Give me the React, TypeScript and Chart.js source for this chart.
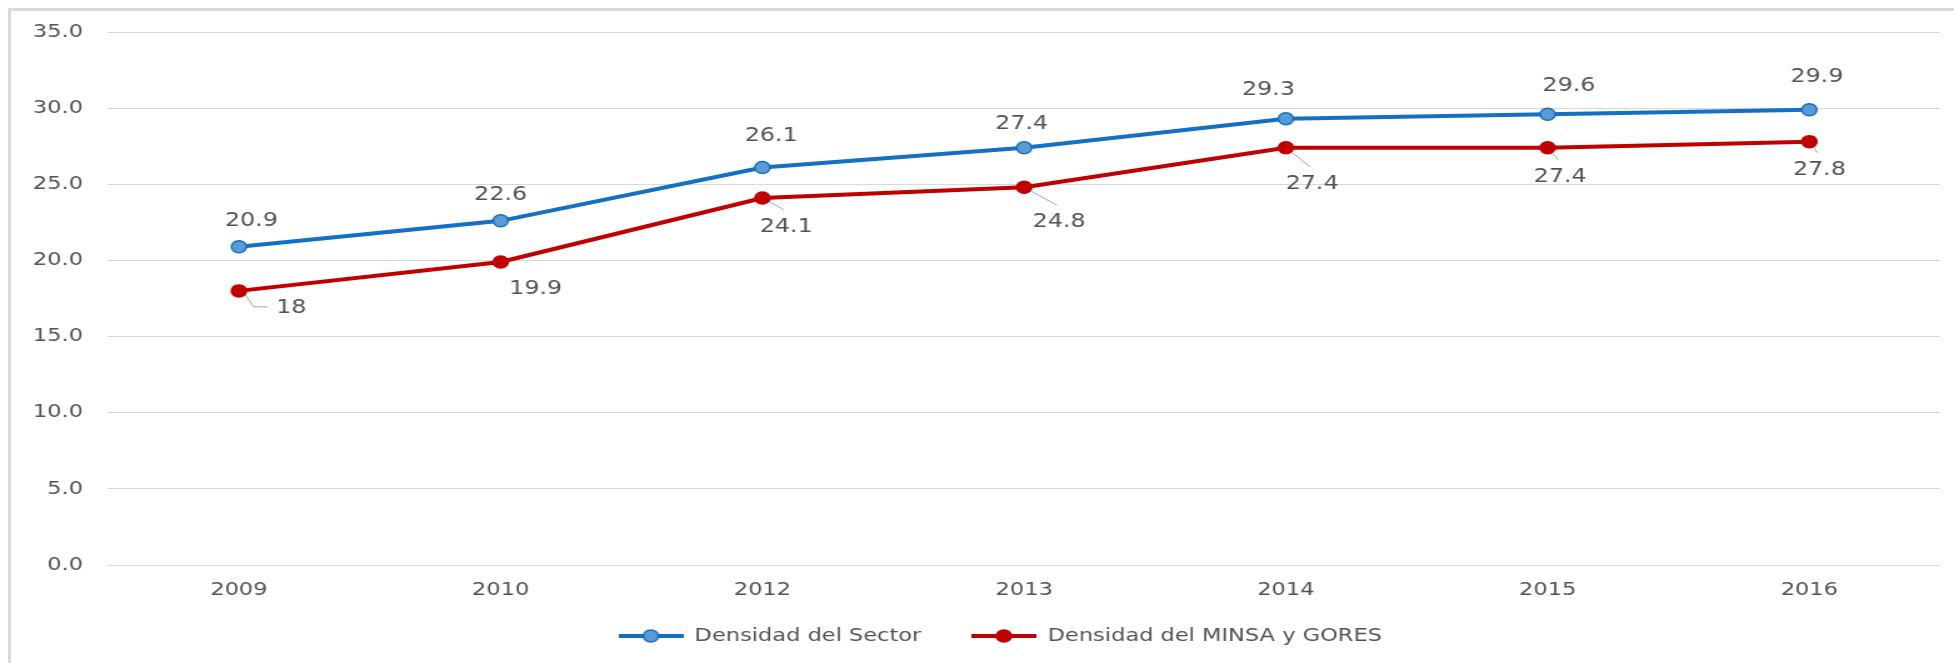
import React, { useEffect, useRef } from 'react';
import { Chart, registerables } from 'chart.js';

Chart.register(...registerables);

// ---- data ----
const years = ['2009', '2010', '2012', '2013', '2014', '2015', '2016'];
const sectorDensity = [20.9, 22.6, 26.1, 27.4, 29.3, 29.6, 29.9];
const minsaGoresDensity = [18, 19.9, 24.1, 24.8, 27.4, 27.4, 27.8];
const seriesNames = ['Densidad del Sector', 'Densidad del MINSA y GORES'];
const yMin = 0;
const yMax = 35;
const yStep = 5;

// ---- label placement (chart space offsets from each point) ----
const sectorLabelDx = [10, 0, 7, -2, -14, 17, 6];
const sectorLabelDy = [-27, -27, -32, -25, -30, -29, -34];
const minsaLabelDx = [42, 28, 19, 28, 21, 10, 8];
const minsaLabelDy = [16, 26, 28, 34, 35, 28, 27];
const minsaLeader = ['elbow', 'none', 'line', 'line', 'line', 'line', 'line'];

// ---- styling ----
const FONT = "'DejaVu Sans', Verdana, sans-serif";
const TEXT = '#525252';
const BLUE = '#1470C4';
const BLUE_FILL = '#5B9BD5';
const RED = '#C00000';
const CANVAS_W = 1563;
const CANVAS_H = 663;
const SX = 1954 / CANVAS_W;

function makeIcon(line: string, fill: string): HTMLCanvasElement {
  const c = document.createElement('canvas');
  c.width = 52;
  c.height = 16;
  const g = c.getContext('2d')!;
  g.strokeStyle = line;
  g.lineWidth = 4;
  g.beginPath();
  g.moveTo(0, 8);
  g.lineTo(52, 8);
  g.stroke();
  g.beginPath();
  g.arc(26, 8, 6, 0, Math.PI * 2);
  g.fillStyle = fill;
  g.fill();
  g.lineWidth = 1.5;
  g.strokeStyle = line;
  g.stroke();
  return c;
}

const labelPlugin = {
  id: 'pointLabelsCustom',
  afterDatasetsDraw(chart: any) {
    const ctx = chart.ctx as CanvasRenderingContext2D;
    ctx.save();
    ctx.font = `19px ${FONT}`;
    ctx.fillStyle = TEXT;
    ctx.textAlign = 'center';
    ctx.textBaseline = 'middle';
    chart.data.datasets.forEach((ds: any, di: number) => {
      const meta = chart.getDatasetMeta(di);
      meta.data.forEach((pt: any, i: number) => {
        const text = String(ds.data[i]);
        const dx = di === 0 ? sectorLabelDx[i] : minsaLabelDx[i];
        const dy = di === 0 ? sectorLabelDy[i] : minsaLabelDy[i];
        const cx = pt.x + dx;
        const cy = pt.y + dy;
        if (di === 1) {
          const kind = minsaLeader[i];
          const w = ctx.measureText(text).width;
          ctx.strokeStyle = '#a6a6a6';
          ctx.lineWidth = 1;
          if (kind === 'elbow') {
            const left = cx - w / 2;
            ctx.beginPath();
            ctx.moveTo(pt.x + 5, pt.y + 4);
            ctx.lineTo(left - 18, cy);
            ctx.lineTo(left - 7, cy);
            ctx.stroke();
          } else if (kind === 'line') {
            const ex = cx - 1.6;
            const ey = cy - 7 - 9;
            const vx = ex - pt.x;
            const vy = ey - pt.y;
            const len = Math.hypot(vx, vy);
            if (len > 8) {
              ctx.beginPath();
              ctx.moveTo(pt.x + (vx / len) * 7, pt.y + (vy / len) * 7);
              ctx.lineTo(ex, ey);
              ctx.stroke();
            }
          }
        }
        ctx.fillText(text, cx, cy + 1);
      });
    });
    ctx.restore();
  },
};

const layoutTweakPlugin = {
  id: 'layoutTweak',
  afterLayout(chart: any) {
    const lg = chart.legend;
    if (lg) {
      lg.left += 24;
      lg.right += 24;
    }
    const xs = chart.scales.x;
    if (xs) {
      // let the category labels draw below the (thin) axis box without clipping
      xs.bottom = xs.top + 60;
    }
  },
};

export default function App() {
  const ref = useRef<HTMLCanvasElement>(null);

  useEffect(() => {
    document.body.style.margin = '0';
    const canvas = ref.current!;
    const icons = [makeIcon(BLUE, BLUE_FILL), makeIcon(RED, RED)];
    const chart = new Chart(canvas, {
      type: 'line',
      data: {
        labels: years,
        datasets: [
          {
            label: seriesNames[0],
            data: sectorDensity,
            borderColor: BLUE,
            backgroundColor: BLUE_FILL,
            borderWidth: 4,
            pointRadius: 6,
            pointBorderWidth: 1.5,
            pointBackgroundColor: BLUE_FILL,
            pointBorderColor: BLUE,
            tension: 0,
          },
          {
            label: seriesNames[1],
            data: minsaGoresDensity,
            borderColor: RED,
            backgroundColor: RED,
            borderWidth: 4,
            pointRadius: 6,
            pointBorderWidth: 1.5,
            pointBackgroundColor: RED,
            pointBorderColor: RED,
            tension: 0,
          },
        ],
      },
      options: {
        responsive: false,
        animation: false,
        devicePixelRatio: 1,
        events: [],
        layout: { padding: { left: 0, right: 11, top: 32, bottom: 8 } },
        scales: {
          x: {
            type: 'category',
            offset: true,
            grid: { display: false, drawTicks: false },
            border: { display: false },
            ticks: { color: TEXT, font: { size: 18, family: FONT }, padding: 15, maxRotation: 0 },
            afterFit: (s: any) => {
              s.height = 22;
            },
          },
          y: {
            min: yMin,
            max: yMax,
            grid: { color: '#d9d9d9', lineWidth: 1, drawTicks: false },
            border: { display: false },
            ticks: {
              stepSize: yStep,
              color: TEXT,
              font: { size: 18, family: FONT },
              padding: 20,
              callback: (v: any) => Number(v).toFixed(1),
            },
            afterFit: (s: any) => {
              s.width = 86.4;
            },
          },
        },
        plugins: {
          tooltip: { enabled: false },
          legend: {
            position: 'bottom',
            labels: {
              usePointStyle: true,
              pointStyleWidth: 52,
              boxHeight: 18,
              padding: 40,
              color: TEXT,
              font: { size: 18, family: FONT },
              generateLabels: (c: any) =>
                c.data.datasets.map((ds: any, i: number) => ({
                  text: ds.label,
                  pointStyle: icons[i],
                  fillStyle: ds.backgroundColor,
                  strokeStyle: ds.borderColor,
                  lineWidth: 0,
                  hidden: false,
                  datasetIndex: i,
                  fontColor: TEXT,
                })),
            },
          },
        },
      },
      plugins: [labelPlugin, layoutTweakPlugin],
    } as any);
    return () => chart.destroy();
  }, []);

  return (
    <div style={{ position: 'relative', width: 1954, height: 663, overflow: 'hidden', background: '#fff' }}>
      <div
        style={{
          position: 'absolute',
          left: 8,
          top: 8,
          width: 2000,
          height: 700,
          borderLeft: '3px solid #dadada',
          borderTop: '3px solid #dadada',
        }}
      />
      <canvas
        ref={ref}
        width={CANVAS_W}
        height={CANVAS_H}
        style={{
          position: 'absolute',
          left: 0,
          top: 0,
          width: CANVAS_W,
          height: CANVAS_H,
          transform: `scaleX(${SX})`,
          transformOrigin: '0 0',
        }}
      />
    </div>
  );
}
